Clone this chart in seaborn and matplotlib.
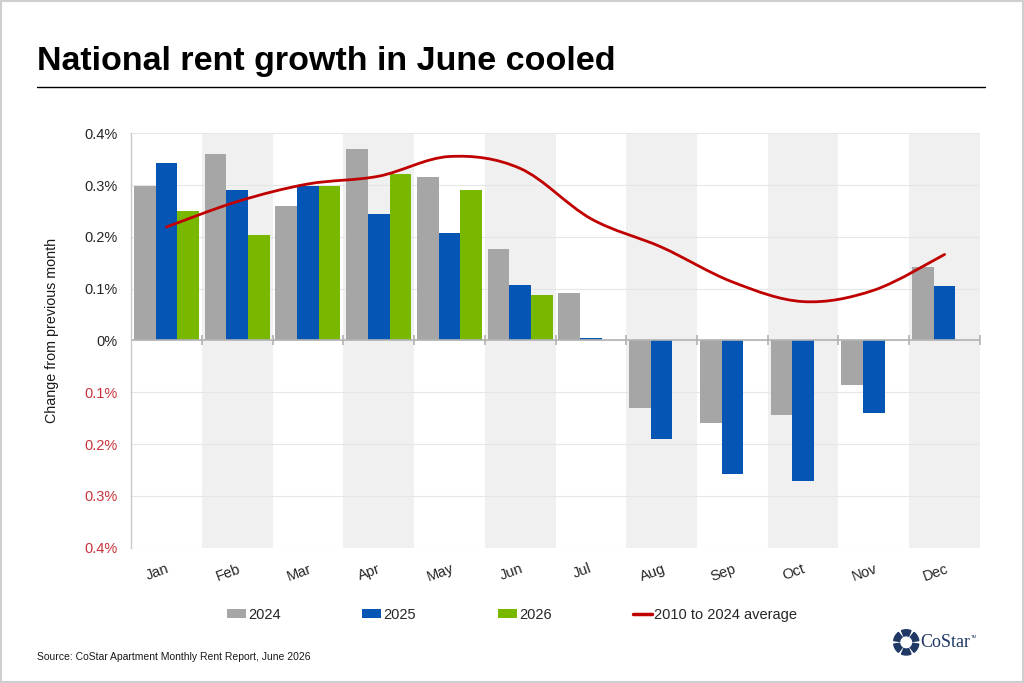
import numpy as np
import pandas as pd
import matplotlib
matplotlib.use('Agg')
import matplotlib.pyplot as plt
import matplotlib.transforms as mtransforms
import seaborn as sns
from matplotlib.path import Path
from matplotlib.patches import PathPatch, Patch, Rectangle, Wedge
from matplotlib.lines import Line2D

# Datos (cambio mensual, %)
months = ['Jan', 'Feb', 'Mar', 'Apr', 'May', 'Jun',
          'Jul', 'Aug', 'Sep', 'Oct', 'Nov', 'Dec']
years = ['2024', '2025', '2026']
y2024 = [0.299, 0.359, 0.259, 0.369, 0.315, 0.176, 0.092, -0.130, -0.159, -0.143, -0.086, 0.141]
y2025 = [0.342, 0.290, 0.298, 0.244, 0.208, 0.108, 0.004, -0.190, -0.257, -0.271, -0.139, 0.106]
y2026 = [0.250, 0.203, 0.299, 0.321, 0.290, 0.087, np.nan, np.nan, np.nan, np.nan, np.nan, np.nan]
avg_2010_2024 = [0.219, 0.268, 0.302, 0.317, 0.355, 0.332, 0.235, 0.180, 0.113, 0.075, 0.097, 0.166]
avg_label = '2010 to 2024 average'
yticks = [0.4, 0.3, 0.2, 0.1, 0.0, -0.1, -0.2, -0.3, -0.4]

colores = {'2024': '#a6a6a6', '2025': '#0555b4', '2026': '#78b800'}
rojo = '#c00000'
rojo_txt = '#c8333a'
azul_logo = '#1f3864'

df = pd.DataFrame({
    'month': months * 3,
    'year': [y for y in years for _ in months],
    'value': y2024 + y2025 + y2026,
})

sns.set_style('white')
plt.rcParams['font.family'] = ['Liberation Sans', 'DejaVu Sans']

fig = plt.figure(figsize=(10.24, 6.83), dpi=100)
ax = fig.add_axes([0.128, 0.198, 0.829, 0.607])

# bandas alternas
for i in range(len(months)):
    if i % 2 == 1:
        ax.axvspan(i - 0.5, i + 0.5, color='#f0f0f0', zorder=0, lw=0)
for t in yticks:
    ax.axhline(t, color='#e6e6e6', lw=0.8, zorder=0.5)

sns.barplot(data=df, x='month', y='value', hue='year', hue_order=years,
            order=months, palette=colores, width=0.92, gap=0, saturation=1,
            errorbar=None, legend=False, ax=ax, zorder=2, linewidth=0)

# linea suavizada (Catmull-Rom -> Bezier), como el "smoothed line" de Excel
xs = np.arange(len(months), dtype=float)
ys = np.array(avg_2010_2024)
pts = np.column_stack([xs, ys])
verts = [pts[0]]
codes = [Path.MOVETO]
n = len(pts)
for i in range(n - 1):
    p0 = pts[max(i - 1, 0)]
    p1 = pts[i]
    p2 = pts[i + 1]
    p3 = pts[min(i + 2, n - 1)]
    c1 = p1 + (p2 - p0) / 6
    c2 = p2 - (p3 - p1) / 6
    verts += [c1, c2, p2]
    codes += [Path.CURVE4] * 3
ax.add_patch(PathPatch(Path(verts, codes), facecolor='none', edgecolor=rojo,
                       lw=2.0, zorder=3, capstyle='round'))

# eje cero con marcas entre grupos
ax.axhline(0, color='#b3b3b3', lw=1.2, zorder=2.5)
ax.scatter(np.arange(len(months) + 1) - 0.5, np.zeros(len(months) + 1),
           marker='|', s=60, color='#b3b3b3', linewidths=1.2, zorder=2.5)

ax.set_xlim(-0.5, len(months) - 0.5)
ax.set_ylim(-0.4, 0.4)
ax.set_yticks(yticks)
ax.set_yticklabels(['0%' if t == 0 else f'{abs(t):.1f}%' for t in yticks])
for lab, t in zip(ax.get_yticklabels(), yticks):
    lab.set_color(rojo_txt if t < 0 else '#262626')
    lab.set_fontsize(10.5)
ax.tick_params(axis='y', length=0, pad=10)
ax.tick_params(axis='x', length=0, pad=10)
ax.set_xticks(range(len(months)))
ax.set_xticklabels(months, rotation=20, fontsize=10.5, color='#262626')
desplaza = mtransforms.ScaledTranslation(-9 / 100, 0, fig.dpi_scale_trans)
for lab in ax.get_xticklabels():
    lab.set_transform(lab.get_transform() + desplaza)
ax.set_xlabel('')
ax.set_ylabel('Change from previous month', fontsize=10.3, color='#1a1a1a')
ax.yaxis.set_label_coords(-0.085, 0.525)

for s in ['top', 'right', 'bottom']:
    ax.spines[s].set_visible(False)
ax.spines['left'].set_color('#c8c8c8')
ax.spines['left'].set_linewidth(1.0)

# leyenda
handles = [Patch(facecolor=colores[y], edgecolor='none') for y in years]
handles.append(Line2D([0], [0], color=rojo, lw=2.5))
fig.legend(handles, years + [avg_label], loc='center', bbox_to_anchor=(0.5, 0.1),
           ncol=4, frameon=False, fontsize=10.5, handlelength=1.3, handleheight=0.6,
           handletextpad=0.15, columnspacing=5.6)

# titulo y textos
fig.text(0.036, 0.897, 'National rent growth in June cooled', fontsize=24.5,
         fontweight='bold', color='black', va='baseline')
fig.add_artist(Line2D([0.036, 0.962], [0.873, 0.873], color='black', lw=1.0))
fig.text(0.036, 0.038, 'Source: CoStar Apartment Monthly Rent Report, June 2026',
         fontsize=7.5, color='#1a1a1a', va='center')

# logo CoStar aproximado
lax = fig.add_axes([0.872, 0.04, 0.026, 0.039])
lax.set_aspect('equal')
lax.set_xlim(-1, 1)
lax.set_ylim(-1, 1)
lax.axis('off')
for k in range(6):
    ang = 90 + k * 60
    lax.add_patch(Wedge((0, 0), 0.95, ang - 22, ang + 22, width=0.45, color=azul_logo))
fig.text(0.899, 0.06, 'CoStar', fontsize=13, family='Liberation Serif',
         color=azul_logo, va='center')
fig.text(0.948, 0.068, 'TM', fontsize=3, color=azul_logo, va='center')

# marco exterior
fig.add_artist(Rectangle((0.001, 0.001), 0.998, 0.998, transform=fig.transFigure,
                         fill=False, edgecolor='#cfcfcf', lw=1.5))

plt.savefig('out.png', dpi=100)
